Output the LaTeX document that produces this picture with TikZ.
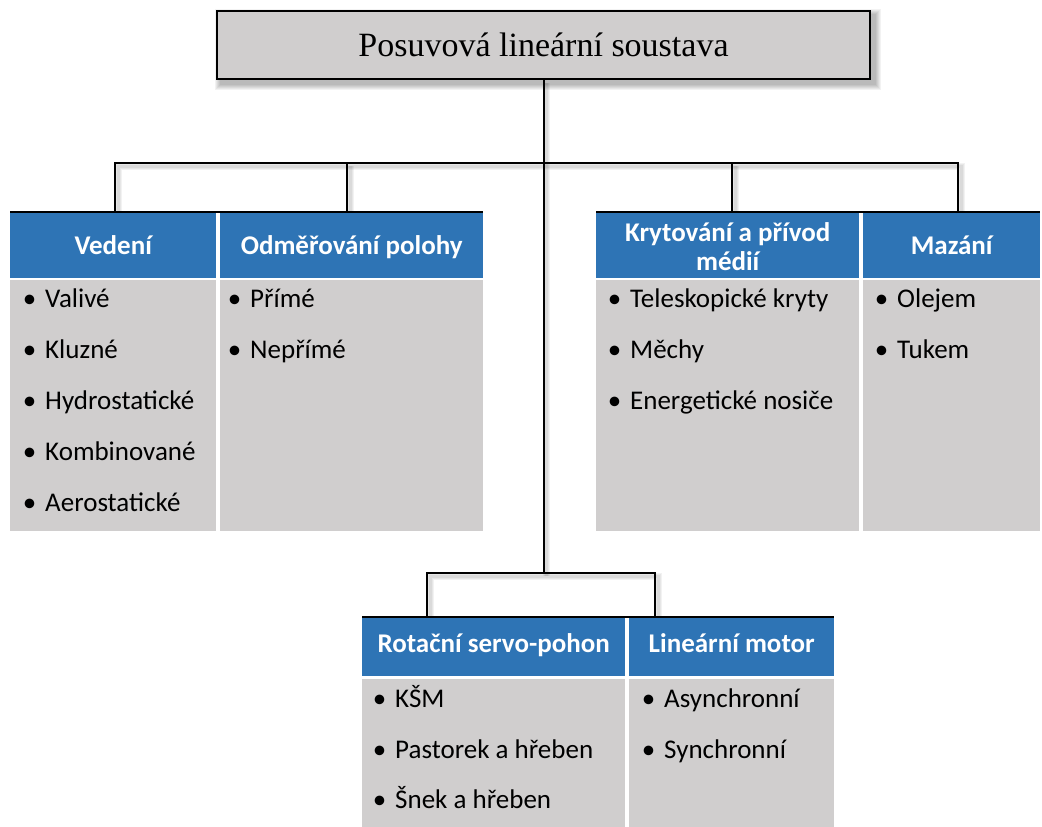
\documentclass[tikz,border=0pt]{standalone}
\usepackage{fontspec}
\setmainfont{Carlito}
\newfontfamily\titlefont{Liberation Serif}
\usetikzlibrary{backgrounds}
\definecolor{hdrblue}{HTML}{2E74B5}
\definecolor{cellgray}{HTML}{D0CECE}
% bullet hanging to the left of the item text
\newcommand\bul[1]{\llap{\textbullet\hspace{9pt}}#1}

\begin{document}
\begin{tikzpicture}[x=1pt,y=-1pt,
  topbox/.style={draw=black, line width=2pt, fill=cellgray, anchor=north west,
    minimum width=653pt, minimum height=68pt, inner sep=0pt,
    font=\titlefont\fontsize{34}{40}\selectfont},
  hdr/.style={fill=hdrblue, text=white, inner sep=0pt, anchor=north west,
    align=center, font=\fontsize{27}{29}\selectfont\bfseries},
  hdrup/.style={hdr, text height=24pt, text depth=6pt},
  hdrlow/.style={hdr, text height=17pt, text depth=6pt},
  cell/.style={fill=cellgray, inner sep=0pt, anchor=north west},
  itm/.style={anchor=base west, inner sep=0pt, font=\fontsize{27}{30}\selectfont},
  conn/.style={draw=black, line width=2pt},
  rule/.style={draw=black, line width=2pt},
  shade/.style={draw=black, opacity=0.05},
]
\useasboundingbox (0,0) rectangle (1042,827);

% title box
\node[topbox] (top) at (216,10) {Posuvová lineární soustava};
\begin{scope}[on background layer]
  \foreach \r in {1,...,6}
    \fill[black, opacity=0.05]
      ([shift={(5-\r,5-\r)}]top.north west) rectangle ([shift={(4+\r,4+\r)}]top.south east);
\end{scope}

% junctions and drop points of the connectors
\coordinate (jTop) at (top.south |- 0,163);
\coordinate (jBot) at (top.south |- 0,573);
\coordinate (dA) at (115,212);
\coordinate (dB) at (347,212);
\coordinate (dC) at (732,212);
\coordinate (dD) at (958,212);
\coordinate (dE) at (427,617);
\coordinate (dF) at (655,617);

% soft shadow under the connectors
\begin{scope}[transform canvas={shift={(3pt,-3pt)}}]
  \foreach \w in {3,5,7} {
    \draw[shade, line width=\w pt] (dA) |- (jTop) -| (dD);
    \draw[shade, line width=\w pt] (dB) -- (dB |- jTop);
    \draw[shade, line width=\w pt] (dC) -- (dC |- jTop);
    \draw[shade, line width=\w pt] (top.south) -- (jBot);
    \draw[shade, line width=\w pt] (dE) |- (jBot) -| (dF);
  }
\end{scope}

% connectors
\draw[conn] (dA) |- (jTop) -| (dD);
\draw[conn] (dB) -- (dB |- jTop);
\draw[conn] (dC) -- (dC |- jTop);
\draw[conn] (top.south) -- (jBot);
\draw[conn] (dE) |- (jBot) -| (dF);

% upper left group
\node[hdrup, minimum width=206pt, minimum height=66pt] (hA) at (10,212) {Vedení};
\node[cell, minimum width=206pt, minimum height=251pt] (cA) at (10,280) {};
\node[hdrup, minimum width=263pt, minimum height=66pt] (hB) at (220,212) {Odměřování polohy};
\node[cell, minimum width=263pt, minimum height=251pt] (cB) at (220,280) {};

% upper right group
\node[hdr, minimum width=263pt, minimum height=66pt] (hC) at (596,212)
  {\rule{0pt}{22pt}Krytování a přívod\\médií};
\node[cell, minimum width=263pt, minimum height=251pt] (cC) at (596,280) {};
\node[hdrup, minimum width=177pt, minimum height=66pt] (hD) at (863,212) {Mazání};
\node[cell, minimum width=177pt, minimum height=251pt] (cD) at (863,280) {};

% lower group
\node[hdrlow, minimum width=263pt, minimum height=59pt] (hE) at (362,617) {Rotační servo-pohon};
\node[cell, minimum width=263pt, minimum height=148pt] (cE) at (362,679) {};
\node[hdrlow, minimum width=205pt, minimum height=59pt] (hF) at (629,617) {Lineární motor};
\node[cell, minimum width=205pt, minimum height=148pt] (cF) at (629,679) {};

% black rules along the header tops
\draw[rule] (hA.north west) -- (hB.north east);
\draw[rule] (hC.north west) -- (hD.north east);
\draw[rule] (hE.north west) -- (hF.north east);

% items
\node[itm] (a1) at (45,307) {\bul{Valivé}};
\node[itm] (a2) at (45,358) {\bul{Kluzné}};
\node[itm] (a3) at (45,409) {\bul{Hydrostatické}};
\node[itm] (a4) at (45,460) {\bul{Kombinované}};
\node[itm] (a5) at (45,511) {\bul{Aerostatické}};

\node[itm] (b1) at (250,307) {\bul{Přímé}};
\node[itm] (b2) at (250,358) {\bul{Nepřímé}};

\node[itm] (c1) at (630,307) {\bul{Teleskopické kryty}};
\node[itm] (c2) at (630,358) {\bul{Měchy}};
\node[itm] (c3) at (630,409) {\bul{Energetické nosiče}};

\node[itm] (d1) at (897,307) {\bul{Olejem}};
\node[itm] (d2) at (897,358) {\bul{Tukem}};

\node[itm] (e1) at (395,707) {\bul{KŠM}};
\node[itm] (e2) at (395,758) {\bul{Pastorek a hřeben}};
\node[itm] (e3) at (395,808) {\bul{Šnek a hřeben}};

\node[itm] (f1) at (664,707) {\bul{Asynchronní}};
\node[itm] (f2) at (664,758) {\bul{Synchronní}};
\end{tikzpicture}
\end{document}
